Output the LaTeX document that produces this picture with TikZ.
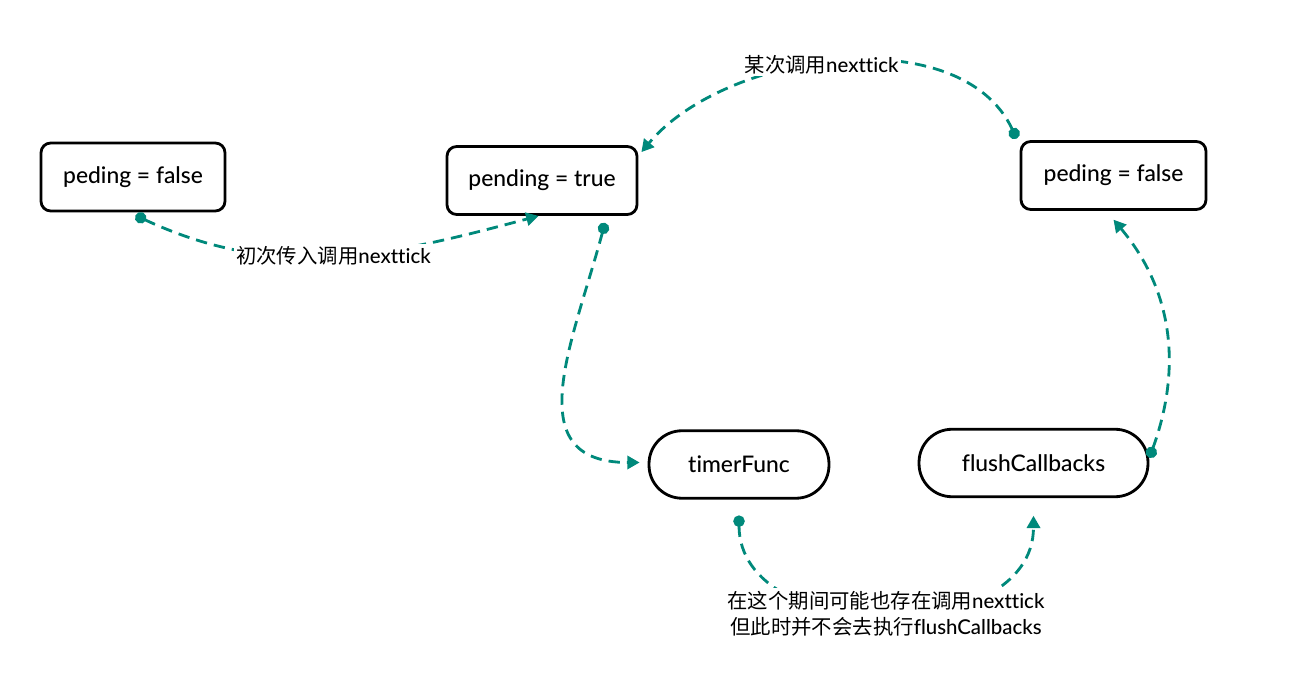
\documentclass[tikz,border=0pt]{standalone}
\usepackage{fontspec}
\setmainfont{Lato}[UprightFont=* Medium, Ligatures=NoCommon]
\newfontfamily\cjk{Noto Sans CJK SC}
\usetikzlibrary{positioning}
\usetikzlibrary{arrows.meta}
\definecolor{flowteal}{RGB}{0,137,123}
\tikzset{
  state/.style={draw, line width=1.6pt, rounded corners=5.5pt, minimum height=1.36cm,
    font=\fontsize{13}{15}\selectfont},
  task/.style={draw, line width=1.6pt, rounded corners=0.66cm, minimum height=1.35cm,
    font=\fontsize{13}{15}\selectfont},
  flow/.style={flowteal, line width=1.6pt, dash pattern=on 6.5pt off 4pt,
    {Circle[length=6.5pt]}-{Triangle[length=7pt,width=7.5pt]}},
  note/.style={fill=white, text=black, inner sep=1.5pt, font=\fontsize{11.6}{15}\selectfont}
}

\begin{document}
\begin{tikzpicture}[x=0.02cm, y=0.02cm]
     \useasboundingbox (0,0) rectangle (1302,690);
     \node[state, minimum width=3.68cm] (idle) at (133,513) {peding = false};
     \node[state, minimum width=3.8cm] (pend) at (542,509.5) {pending = true};
     \node[state, minimum width=3.7cm] (reset) at (1113.5,514.5) {peding = false};
     \node[task, minimum width=3.6cm] (timer) at (739,225.5) {timerFunc};
     \node[task, minimum width=4.58cm] (flush) at (1033.5,227) {flushCallbacks};

     \draw[flow] ([shift={(2.5,-3)}]idle.south)
       to[out=-25, in=195] node[note] {{\cjk 初次传入调用}nexttick}
       ([xshift=-2]pend.south);
     \draw[flow] ([shift={(-3,1.5)}]reset.north west)
       to[out=115, in=50, looseness=0.9] node[note, pos=0.54] {{\cjk 某次调用}nexttick}
       ([shift={(3,-7)}]pend.north east);
     \draw[flow] ([shift={(63,-7)}]pend.south)
       to[out=-105, in=180, looseness=1.3] ([shift={(-8,2)}]timer.west);
     \draw[flow] ([yshift=-9]timer.south)
       to[out=-90, in=-90, looseness=1.15] ([yshift=-10]flush.south);
     \draw[flow] ([yshift=3]flush.east)
       to[out=70, in=-50] ([yshift=-5]reset.south);
     \node[note, align=center] (between) at (886,76.5)
       {{\cjk 在这个期间可能也存在调用}nexttick\\{\cjk 但此时并不会去执行}flushCallbacks};
    \end{tikzpicture}
\end{document}
